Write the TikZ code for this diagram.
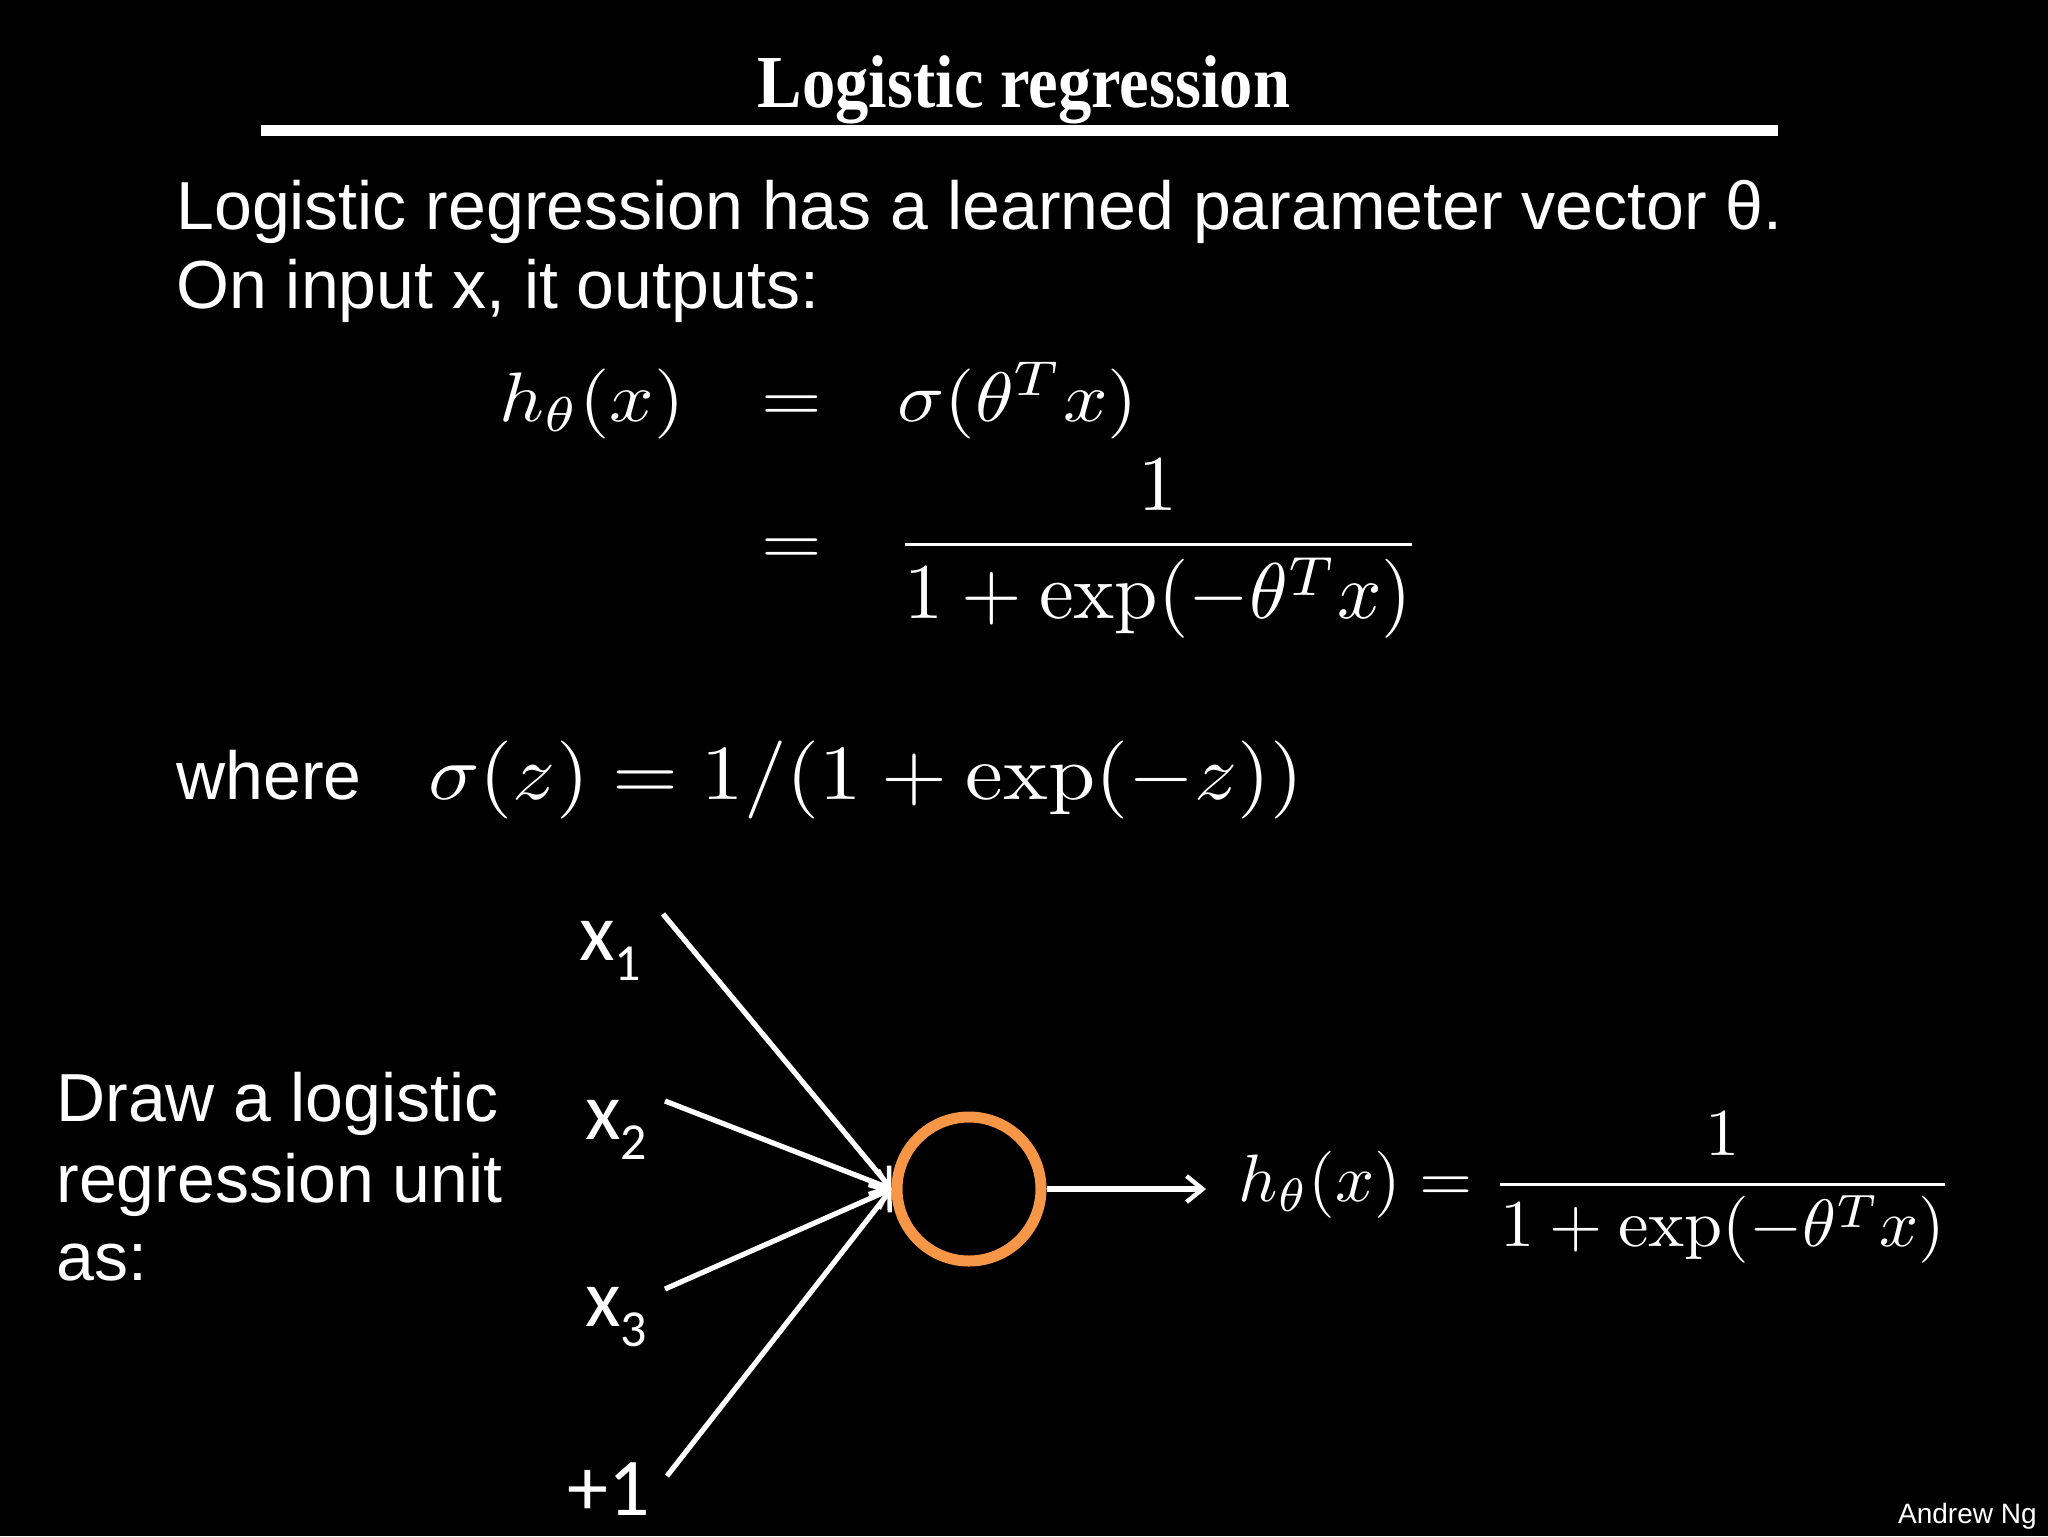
\documentclass[tikz,border=0pt]{standalone}
\usepackage[no-math]{fontspec}
\usepackage{graphicx}
\setmainfont{Liberation Sans}
\newfontfamily\titlefont{Liberation Serif}
\newfontfamily\calfont{Carlito}
\usetikzlibrary{arrows.meta}
\definecolor{unitorange}{HTML}{F79646}
\newcommand{\mscale}[3]{\scalebox{#1}[#2]{$#3$}}
\begin{document}
\begin{tikzpicture}[x=0.5pt,y=-0.5pt,
  body/.style={text=white,inner sep=0pt,anchor=base west,font=\fontsize{34}{40}\selectfont},
  mth/.style={text=white,inner sep=0pt,anchor=base west},
  lbl/.style={text=white,inner sep=0pt,anchor=base west,font=\calfont\fontsize{41}{48}\selectfont},
  conn/.style={draw=white,line width=2.6pt,-{Straight Barb[length=8pt,width=13pt,line width=2.2pt]}},
  unitstyle/.style={draw=unitorange,line width=5.5pt,circle,minimum size=72pt,inner sep=0pt}
]
\fill[black] (0,0) rectangle (2048,1536);
\useasboundingbox (0,0) rectangle (2048,1536);

% title
\node[text=white,inner sep=0pt,anchor=base,font=\titlefont\bfseries\fontsize{34}{40}\selectfont] (title) at (1024,107) {\scalebox{0.98}[1.1]{Logistic regression}};
\fill[white] (261,125) rectangle (1778,136);

% body text
\node[body] (l1) at (176,229) {Logistic regression has a learned parameter vector θ.};
\node[body] (l2) at (176,308) {On input x, it outputs:};

% equations
\node[mth] (h1) at (499,421) {\mscale{3.9}{3.5}{h_\theta(x)}};
\node[mth] (e1) at (761,421) {\mscale{3.9}{3.5}{=}};
\node[mth] (s1) at (897,421) {\mscale{3.9}{3.5}{\sigma(\theta^T x)}};
\node[mth] (e2) at (761,564) {\mscale{3.9}{3.5}{=}};
\node[mth] (f1) at (895,564) {\mscale{3.9}{3.95}{\displaystyle\frac{1}{1+\exp(-\theta^T x)}}};

% where
\node[body] (wh) at (176,799) {where};
\node[mth] (sg) at (428,799) {\mscale{4.24}{3.9}{\sigma(z) = 1/(1+\exp(-z))}};

% left text
\node[body] (d1) at (56,1121) {Draw a logistic};
\node[body] (d2) at (56,1202) {regression unit};
\node[body] (d3) at (56,1280) {as:};

% input labels
\node[lbl] (x1) at (579,960) {x\raisebox{-10pt}{\fontsize{26}{30}\selectfont 1}};
\node[lbl] (x2) at (585,1139) {x\raisebox{-10pt}{\fontsize{26}{30}\selectfont 2}};
\node[lbl] (x3) at (585,1326) {x\raisebox{-10pt}{\fontsize{26}{30}\selectfont 3}};
\node[lbl] (b) at (567,1515) {+1};

% unit
\node[unitstyle] (unit) at (969,1189) {};

\coordinate (a1) at (663,914);
\coordinate (a2) at (665,1101);
\coordinate (a3) at (665,1289);
\coordinate (a4) at (667,1476);
\draw[conn] (a1) -- (unit.west);
\draw[conn] (a2) -- (unit.west);
\draw[conn] (a3) -- (unit.west);
\draw[conn] (a4) -- (unit.west);

\coordinate (o) at (1206,1189);
\draw[conn] (unit.east) -- (o);

% output formula
\node[mth] (hout) at (1238,1201) {\mscale{3.42}{3.35}{h_\theta(x) = \displaystyle\frac{1}{1+\exp(-\theta^T x)}}};

\node[text=white,inner sep=0pt,anchor=base east,font=\fontsize{14}{16}\selectfont] (an) at (2037,1523) {Andrew Ng};
\end{tikzpicture}
\end{document}
